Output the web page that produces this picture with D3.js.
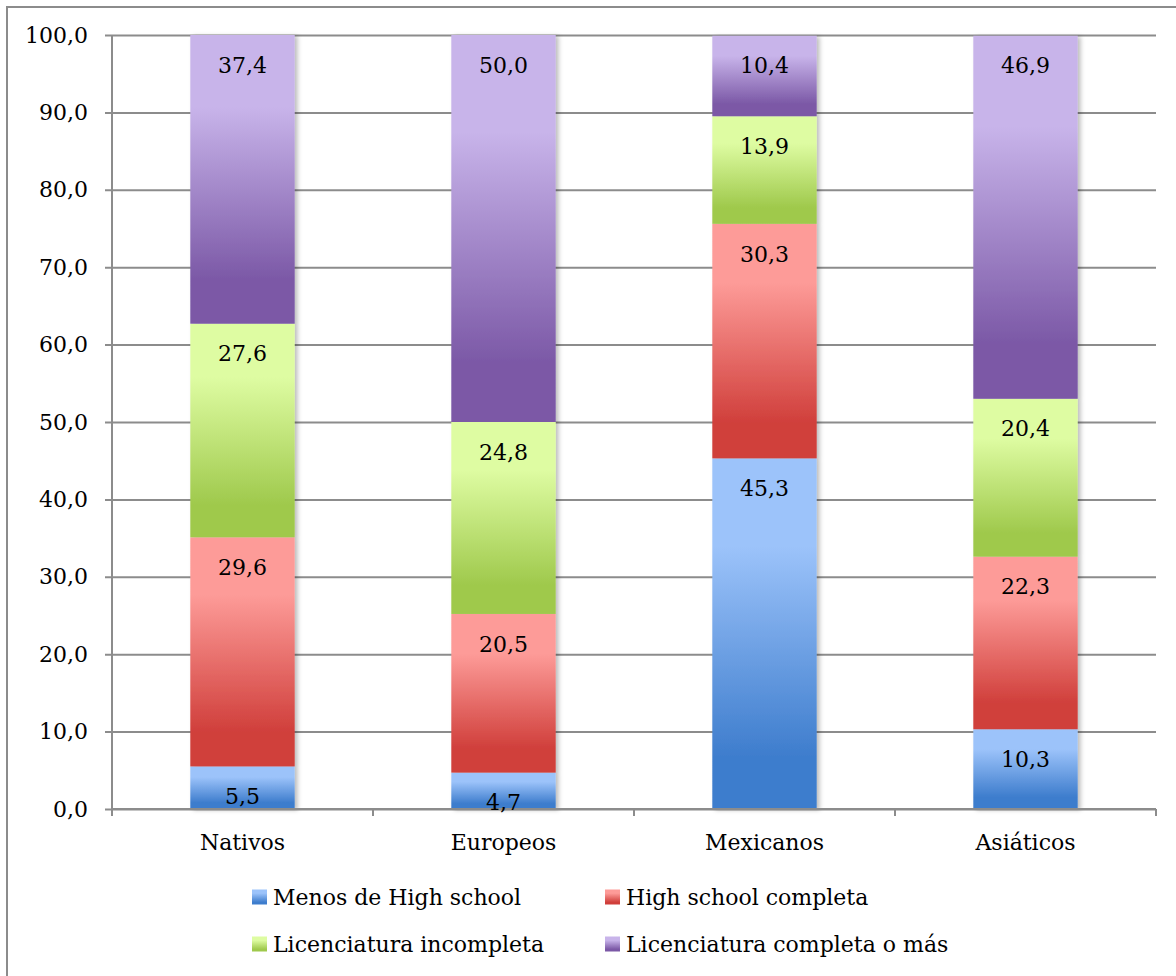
<!DOCTYPE html>
<html>
<head>
<meta charset="utf-8">
<script src="https://cdn.jsdelivr.net/npm/d3@7"></script>
<style>
  html, body { margin: 0; padding: 0; background: #fff; }
  svg { display: block; }
  text { font-family: "DejaVu Serif", "Liberation Serif", serif; fill: #000; }
</style>
</head>
<body>
<svg id="chart" width="1176" height="976"></svg>
<script>
// Nivel educativo por origen (%)
const categories = ["Nativos", "Europeos", "Mexicanos", "Asiáticos"];
const seriesNames = [
  "Menos de High school",
  "High school completa",
  "Licenciatura incompleta",
  "Licenciatura completa o más"
];
const menosHS      = [5.5, 4.7, 45.3, 10.3];
const hsCompleta   = [29.6, 20.5, 30.3, 22.3];
const licIncomp    = [27.6, 24.8, 13.9, 20.4];
const licCompleta  = [37.4, 50.0, 10.4, 46.9];
const yTicks = [0, 10, 20, 30, 40, 50, 60, 70, 80, 90, 100];

const seriesValues = [menosHS, hsCompleta, licIncomp, licCompleta];
// light (top) and dark (bottom) shades of each series
const seriesColors = [
  ["#9cc3fa", "#3e7dcd"],
  ["#fd9b98", "#d03f3b"],
  ["#defca2", "#9fc94c"],
  ["#c8b4ea", "#7b58a6"]
];

const fmt = d3.formatLocale({ decimal: ",", thousands: ".", grouping: [3], currency: ["", ""] }).format(".1f");

const svg = d3.select("#chart");
const defs = svg.append("defs");

seriesColors.forEach((c, i) => {
  const g = defs.append("linearGradient")
    .attr("id", "grad" + i)
    .attr("x1", 0).attr("y1", 0).attr("x2", 0).attr("y2", 1);
  g.append("stop").attr("offset", "0%").attr("stop-color", c[0]);
  g.append("stop").attr("offset", "25%").attr("stop-color", c[0]);
  g.append("stop").attr("offset", "85%").attr("stop-color", c[1]);
  g.append("stop").attr("offset", "100%").attr("stop-color", c[1]);
});

const shadow = defs.append("filter").attr("id", "shadow")
  .attr("x", "-10%").attr("y", "-5%").attr("width", "130%").attr("height", "115%");
shadow.append("feDropShadow")
  .attr("dx", 3).attr("dy", 1).attr("stdDeviation", 2)
  .attr("flood-color", "#000").attr("flood-opacity", 0.25);

// outer chart frame
svg.append("rect")
  .attr("x", 7).attr("y", 7).attr("width", 1180).attr("height", 990)
  .attr("fill", "none").attr("stroke", "#8c8c8c").attr("stroke-width", 2);

const plot = { left: 112, right: 1156, top: 35, bottom: 809 };

const y = d3.scaleLinear().domain([0, 100]).range([plot.bottom, plot.top]).clamp(true);
const x = d3.scaleBand().domain(categories).range([plot.left, plot.right])
  .paddingInner(0.6).paddingOuter(0.3);
const xCat = d3.scaleBand().domain(categories).range([plot.left, plot.right]).padding(0);

const gridColor = "#8c8c8c";

// horizontal gridlines with outward ticks
const yAxis = d3.axisLeft(y).tickValues(yTicks)
  .tickSize(-(plot.right - plot.left)).tickSizeOuter(0).tickPadding(24)
  .tickFormat(fmt);
const gy = svg.append("g").attr("transform", `translate(${plot.left},0)`).call(yAxis)
  .attr("font-family", "DejaVu Serif, serif");
gy.select(".domain").remove();
gy.selectAll(".tick line")
  .attr("x1", -7).attr("stroke", gridColor).attr("stroke-width", 2);
gy.selectAll(".tick text")
  .attr("font-size", 22).attr("fill", "#000")
  .attr("font-family", "DejaVu Serif, serif");

// vertical axis line
svg.append("line")
  .attr("x1", plot.left).attr("x2", plot.left)
  .attr("y1", plot.top).attr("y2", plot.bottom + 7)
  .attr("stroke", gridColor).attr("stroke-width", 2);

// category boundary ticks
const boundaries = categories.map(c => xCat(c)).concat([plot.right]);
svg.append("g").selectAll("line").data(boundaries).join("line")
  .attr("x1", d => d).attr("x2", d => d)
  .attr("y1", plot.bottom).attr("y2", plot.bottom + 7)
  .attr("stroke", gridColor).attr("stroke-width", 2);

// stacked segments
const stackRows = categories.map((c, ci) => {
  let base = 0;
  return seriesValues.map((vals, si) => {
    const seg = { cat: c, series: si, v0: base, v1: base + vals[ci], value: vals[ci] };
    base += vals[ci];
    return seg;
  });
});

const barGroups = svg.append("g").selectAll("g.bar").data(stackRows).join("g")
  .attr("class", "bar")
  .attr("filter", "url(#shadow)");

barGroups.selectAll("rect").data(d => d).join("rect")
  .attr("x", d => x(d.cat))
  .attr("width", x.bandwidth())
  .attr("y", d => y(d.v1))
  .attr("height", d => y(d.v0) - y(d.v1))
  .attr("fill", d => `url(#grad${d.series})`);

// x axis line drawn over bar bottoms
svg.append("line")
  .attr("x1", plot.left).attr("x2", plot.right)
  .attr("y1", plot.bottom).attr("y2", plot.bottom)
  .attr("stroke", gridColor).attr("stroke-width", 2);

// value labels near the top of each segment
svg.append("g").selectAll("text").data(stackRows.flat()).join("text")
  .attr("x", d => x(d.cat) + x.bandwidth() / 2)
  .attr("y", d => y(d.v1) + 30)
  .attr("dy", "0.35em")
  .attr("text-anchor", "middle")
  .attr("font-size", 22)
  .text(d => fmt(d.value));

// category labels
svg.append("g").selectAll("text").data(categories).join("text")
  .attr("x", d => xCat(d) + xCat.bandwidth() / 2)
  .attr("y", 842)
  .attr("dy", "0.35em")
  .attr("text-anchor", "middle")
  .attr("font-size", 22)
  .text(d => d);

// legend
const legendPos = [
  { x: 252, y: 897 }, { x: 605, y: 897 },
  { x: 252, y: 944 }, { x: 605, y: 944 }
];
const legend = svg.append("g").selectAll("g").data(seriesNames).join("g")
  .attr("transform", (d, i) => `translate(${legendPos[i].x},${legendPos[i].y})`);
legend.append("rect")
  .attr("x", 0).attr("y", -7.5).attr("width", 15).attr("height", 15)
  .attr("fill", (d, i) => `url(#grad${i})`);
legend.append("text")
  .attr("x", 21).attr("y", 0).attr("dy", "0.35em")
  .attr("font-size", 22)
  .text(d => d);
</script>
</body>
</html>
